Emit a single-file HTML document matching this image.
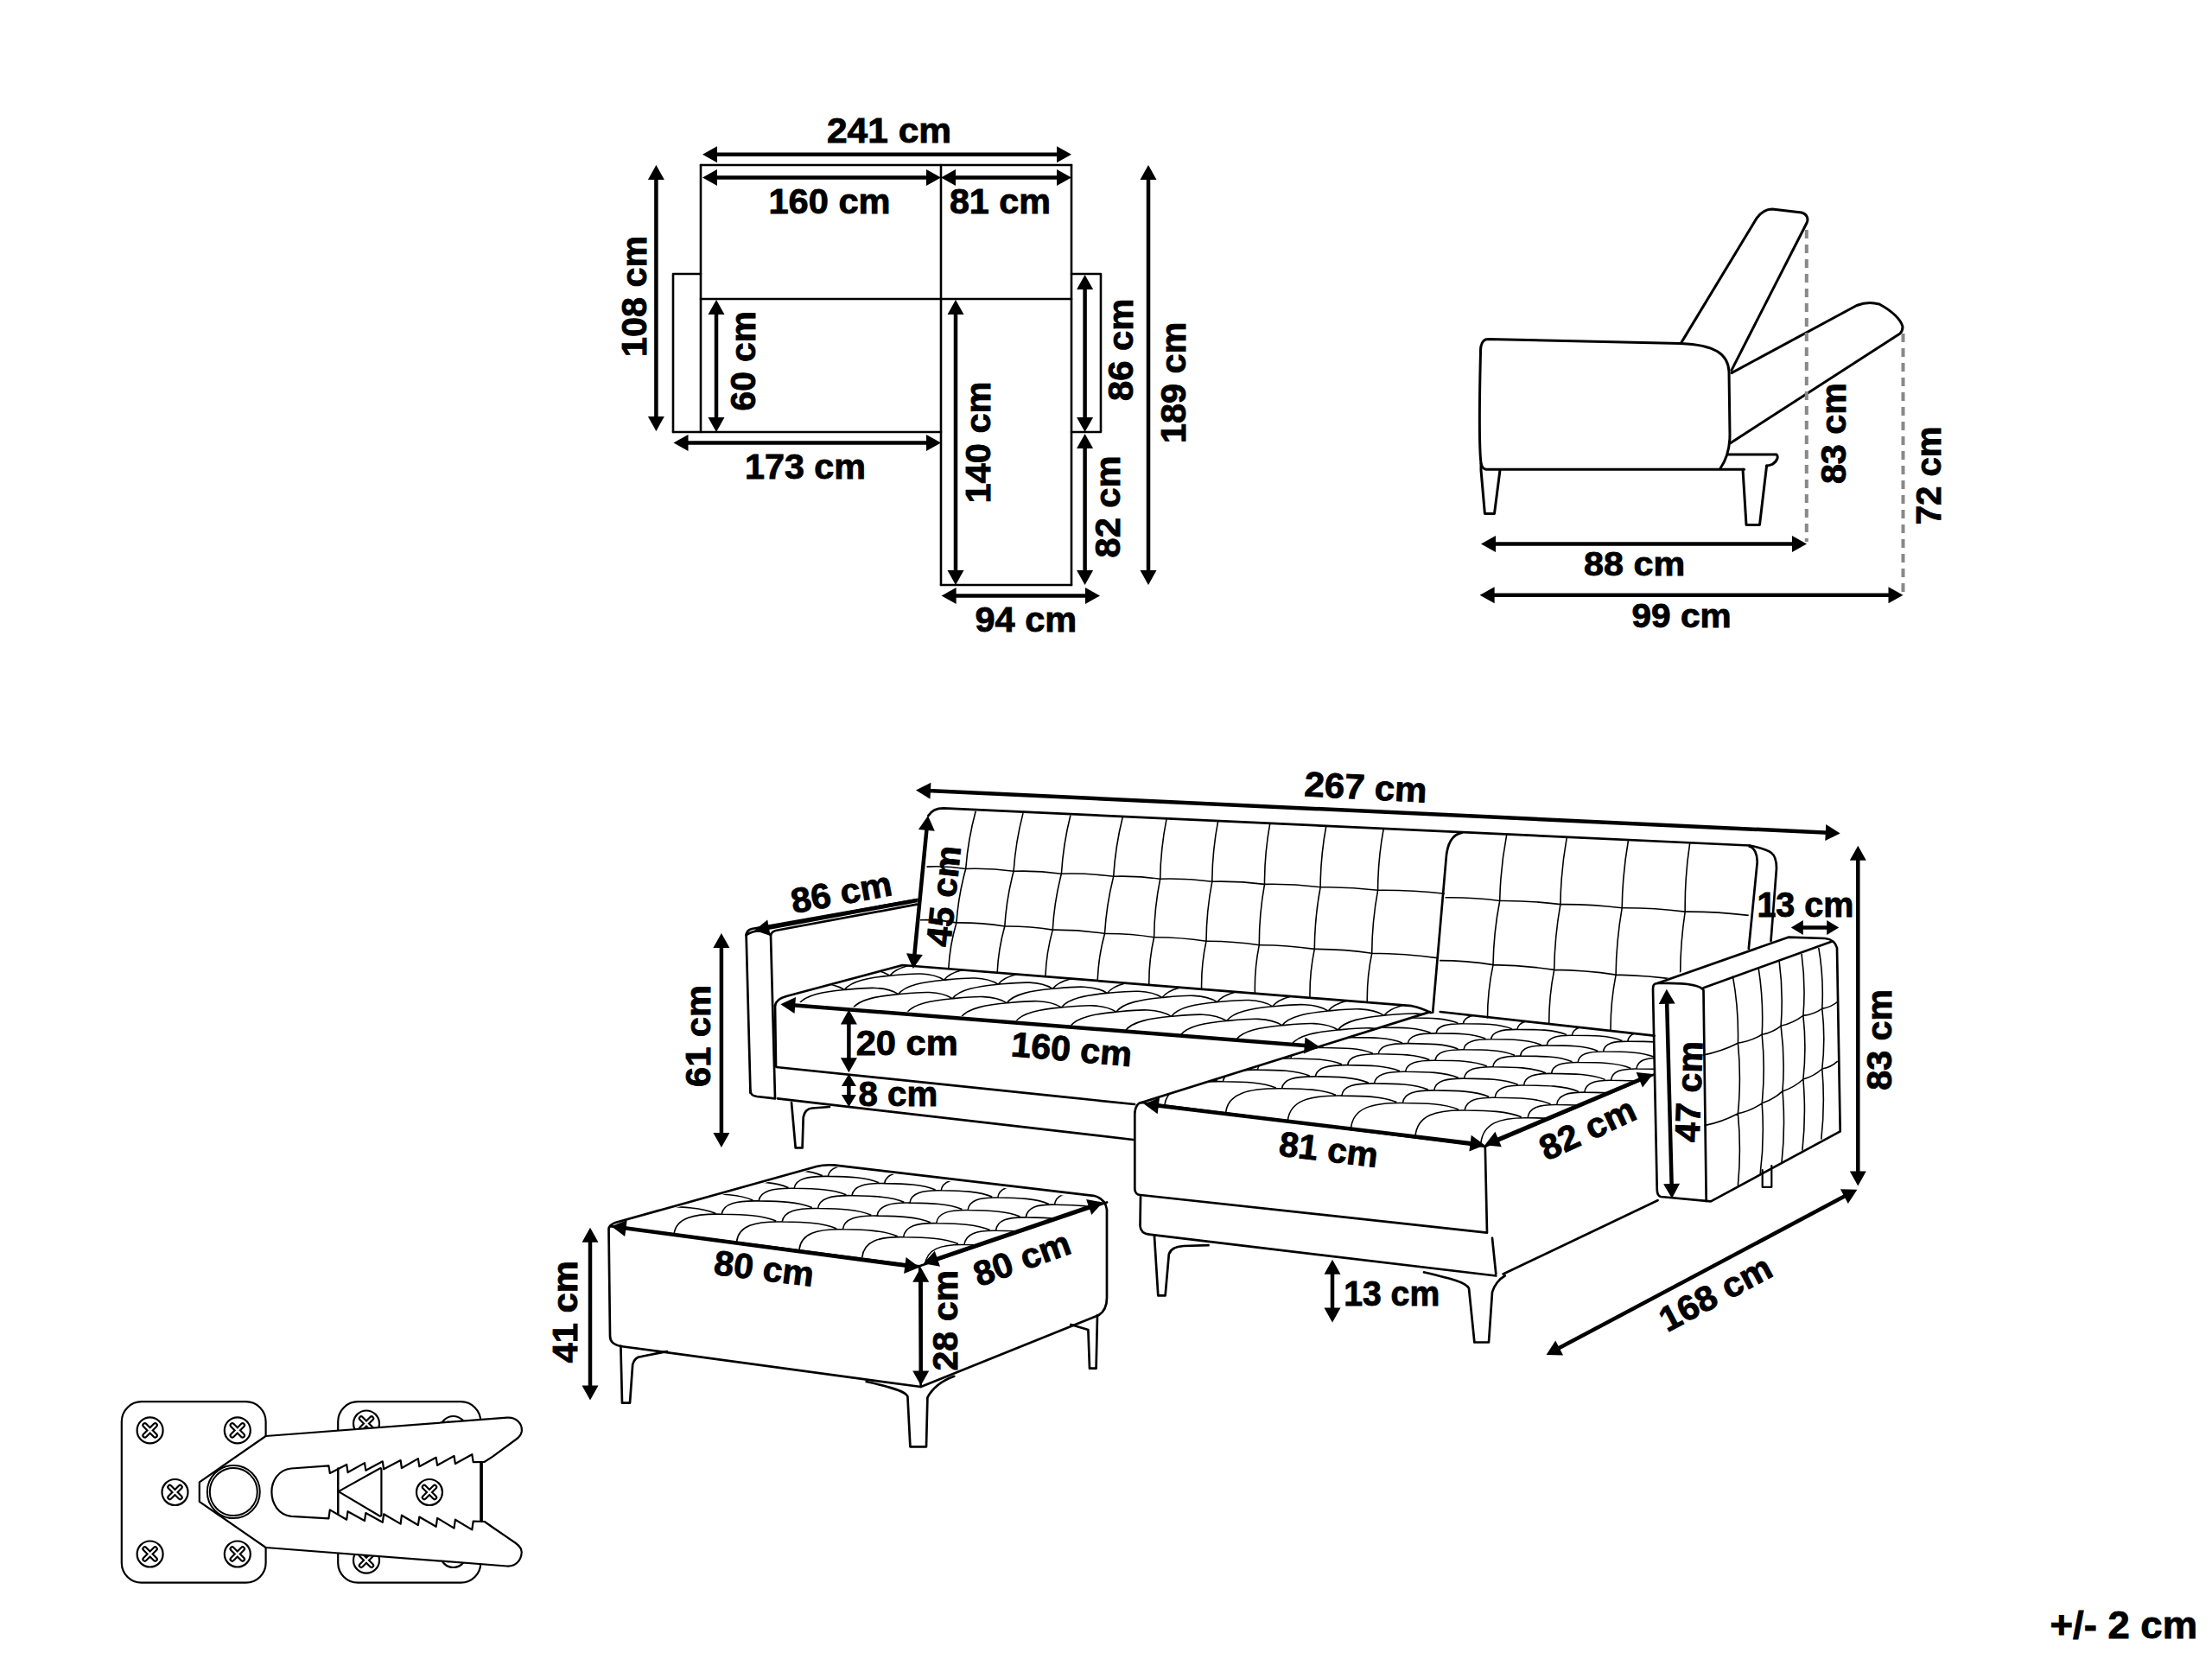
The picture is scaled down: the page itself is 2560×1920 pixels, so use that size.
<!DOCTYPE html>
<html><head><meta charset="utf-8"><style>
html,body{margin:0;padding:0;background:#fff;width:2560px;height:1920px;overflow:hidden}
svg{display:block}
text{font-family:"Liberation Sans",sans-serif;font-weight:bold;fill:#000;stroke:#000;stroke-width:0.9px}
</style></head><body>
<svg width="2560" height="1920" viewBox="0 0 2560 1920">
<path d="M811.0,191.0 L1240.0,191.0" fill="none" stroke="#000" stroke-width="2.6" stroke-linejoin="round" stroke-linecap="round"/>
<path d="M811.0,191.0 L811.0,500.0" fill="none" stroke="#000" stroke-width="2.6" stroke-linejoin="round" stroke-linecap="round"/>
<path d="M1240.0,191.0 L1240.0,677.0" fill="none" stroke="#000" stroke-width="2.6" stroke-linejoin="round" stroke-linecap="round"/>
<path d="M1089.0,191.0 L1089.0,677.0" fill="none" stroke="#000" stroke-width="2.6" stroke-linejoin="round" stroke-linecap="round"/>
<path d="M811.0,346.0 L1240.0,346.0" fill="none" stroke="#000" stroke-width="2.6" stroke-linejoin="round" stroke-linecap="round"/>
<path d="M779.0,500.0 L1089.0,500.0" fill="none" stroke="#000" stroke-width="2.6" stroke-linejoin="round" stroke-linecap="round"/>
<path d="M811.0,317.0 L779.0,317.0 L779.0,500.0" fill="none" stroke="#000" stroke-width="2.6" stroke-linejoin="round" stroke-linecap="round"/>
<path d="M1240.0,317.0 L1274.0,317.0 L1274.0,500.0 L1240.0,500.0" fill="none" stroke="#000" stroke-width="2.6" stroke-linejoin="round" stroke-linecap="round"/>
<path d="M1089.0,677.0 L1240.0,677.0" fill="none" stroke="#000" stroke-width="2.6" stroke-linejoin="round" stroke-linecap="round"/>
<line x1="826.6" y1="178.7" x2="1226.4" y2="178.7" stroke="#000" stroke-width="4.5"/>
<polygon points="813.0,178.7 830.0,188.2 830.0,169.2"/>
<polygon points="1240.0,178.7 1223.0,188.2 1223.0,169.2"/>
<line x1="826.6" y1="205.4" x2="1075.4" y2="205.4" stroke="#000" stroke-width="4.5"/>
<polygon points="813.0,205.4 830.0,214.9 830.0,195.9"/>
<polygon points="1089.0,205.4 1072.0,214.9 1072.0,195.9"/>
<line x1="1102.6" y1="205.4" x2="1226.4" y2="205.4" stroke="#000" stroke-width="4.5"/>
<polygon points="1089.0,205.4 1106.0,214.9 1106.0,195.9"/>
<polygon points="1240.0,205.4 1223.0,214.9 1223.0,195.9"/>
<line x1="759.4" y1="204.6" x2="759.4" y2="485.4" stroke="#000" stroke-width="4.5"/>
<polygon points="759.4,191.0 749.9,208.0 768.9,208.0"/>
<polygon points="759.4,499.0 749.9,482.0 768.9,482.0"/>
<line x1="829.0" y1="360.6" x2="829.0" y2="486.4" stroke="#000" stroke-width="4.5"/>
<polygon points="829.0,347.0 819.5,364.0 838.5,364.0"/>
<polygon points="829.0,500.0 819.5,483.0 838.5,483.0"/>
<line x1="793.1" y1="512.4" x2="1075.4" y2="512.4" stroke="#000" stroke-width="4.5"/>
<polygon points="779.5,512.4 796.5,521.9 796.5,502.9"/>
<polygon points="1089.0,512.4 1072.0,521.9 1072.0,502.9"/>
<line x1="1106.0" y1="360.6" x2="1106.0" y2="663.4" stroke="#000" stroke-width="4.5"/>
<polygon points="1106.0,347.0 1096.5,364.0 1115.5,364.0"/>
<polygon points="1106.0,677.0 1096.5,660.0 1115.5,660.0"/>
<line x1="1255.6" y1="331.6" x2="1255.6" y2="486.4" stroke="#000" stroke-width="4.5"/>
<polygon points="1255.6,318.0 1246.1,335.0 1265.1,335.0"/>
<polygon points="1255.6,500.0 1246.1,483.0 1265.1,483.0"/>
<line x1="1255.6" y1="515.6" x2="1255.6" y2="663.4" stroke="#000" stroke-width="4.5"/>
<polygon points="1255.6,502.0 1246.1,519.0 1265.1,519.0"/>
<polygon points="1255.6,677.0 1246.1,660.0 1265.1,660.0"/>
<line x1="1329.0" y1="204.6" x2="1329.0" y2="663.4" stroke="#000" stroke-width="4.5"/>
<polygon points="1329.0,191.0 1319.5,208.0 1338.5,208.0"/>
<polygon points="1329.0,677.0 1319.5,660.0 1338.5,660.0"/>
<line x1="1103.2" y1="689.5" x2="1259.4" y2="689.5" stroke="#000" stroke-width="4.5"/>
<polygon points="1089.6,689.5 1106.6,699.0 1106.6,680.0"/>
<polygon points="1273.0,689.5 1256.0,699.0 1256.0,680.0"/>
<text transform="translate(1029.0,150.5) rotate(0)" x="0" y="14.5" font-size="40.5" text-anchor="middle" textLength="144.0" lengthAdjust="spacingAndGlyphs">241 cm</text>
<text transform="translate(960.0,232.3) rotate(0)" x="0" y="14.5" font-size="40.5" text-anchor="middle" textLength="141.0" lengthAdjust="spacingAndGlyphs">160 cm</text>
<text transform="translate(1157.4,232.9) rotate(0)" x="0" y="14.5" font-size="40.5" text-anchor="middle" textLength="117.0" lengthAdjust="spacingAndGlyphs">81 cm</text>
<text transform="translate(932.0,539.0) rotate(0)" x="0" y="14.5" font-size="40.5" text-anchor="middle" textLength="140.0" lengthAdjust="spacingAndGlyphs">173 cm</text>
<text transform="translate(1187.3,716.0) rotate(0)" x="0" y="14.5" font-size="40.5" text-anchor="middle" textLength="117.6" lengthAdjust="spacingAndGlyphs">94 cm</text>
<text transform="translate(733.3,342.9) rotate(-90)" x="0" y="14.5" font-size="40.5" text-anchor="middle" textLength="140.0" lengthAdjust="spacingAndGlyphs">108 cm</text>
<text transform="translate(859.5,417.8) rotate(-90)" x="0" y="14.5" font-size="40.5" text-anchor="middle" textLength="115.4" lengthAdjust="spacingAndGlyphs">60 cm</text>
<text transform="translate(1131.6,512.0) rotate(-90)" x="0" y="14.5" font-size="40.5" text-anchor="middle" textLength="141.0" lengthAdjust="spacingAndGlyphs">140 cm</text>
<text transform="translate(1296.0,404.8) rotate(-90)" x="0" y="14.5" font-size="40.5" text-anchor="middle" textLength="118.5" lengthAdjust="spacingAndGlyphs">86 cm</text>
<text transform="translate(1281.5,586.5) rotate(-90)" x="0" y="14.5" font-size="40.5" text-anchor="middle" textLength="118.0" lengthAdjust="spacingAndGlyphs">82 cm</text>
<text transform="translate(1357.5,442.8) rotate(-90)" x="0" y="14.5" font-size="40.5" text-anchor="middle" textLength="140.5" lengthAdjust="spacingAndGlyphs">189 cm</text>
<path d="M1722,392.5 L1945,397.4 C1985,399 2000,410 2001,430 L2002,503 C2002,520 1998,532 1991,542 M1713.5,408 C1713,399 1716,392.5 1722,392.5 M1713.5,408 C1712,470 1712,520 1714,536 C1715,541 1717,543 1720,543.3 L2018.6,543.3" fill="none" stroke="#000" stroke-width="3" stroke-linejoin="round" stroke-linecap="round" />
<path d="M2000.7,526 L2056,526 C2058,528 2058,533 2051,537.4 C2048,538.5 2046,539 2044.6,539" fill="none" stroke="#000" stroke-width="3" stroke-linejoin="round" stroke-linecap="round" />
<path d="M1714.0,536.0 L1714.0,544.0 L1718.4,594.4 L1729.5,594.4 L1736.0,544.0" fill="none" stroke="#000" stroke-width="3" stroke-linejoin="round" stroke-linecap="round"/>
<path d="M2017.0,543.3 L2021.0,607.4 L2036.5,607.4 L2044.6,539.0" fill="none" stroke="#000" stroke-width="3" stroke-linejoin="round" stroke-linecap="round"/>
<path d="M1945.3,397.4 L2033,252.6 C2040,243 2046,242 2051,242 L2085,246 C2092,248 2093,254 2091,258 L2004,428.4" fill="none" stroke="#000" stroke-width="3" stroke-linejoin="round" stroke-linecap="round" />
<path d="M2004,431.6 L2148.8,353.5 C2160,349 2168,350 2175,352 C2190,360 2200,370 2202,378 C2202,383 2200,385 2199,386 L2002.3,513" fill="none" stroke="#000" stroke-width="3" stroke-linejoin="round" stroke-linecap="round" />
<line x1="2090.8" y1="266" x2="2090.8" y2="627" stroke="#888" stroke-width="4" stroke-dasharray="10,7"/>
<line x1="2202.5" y1="386" x2="2202.5" y2="689" stroke="#888" stroke-width="4" stroke-dasharray="10,7"/>
<line x1="1727.6" y1="629.5" x2="2077.4" y2="629.5" stroke="#000" stroke-width="4.5"/>
<polygon points="1714.0,629.5 1731.0,639.0 1731.0,620.0"/>
<polygon points="2091.0,629.5 2074.0,639.0 2074.0,620.0"/>
<line x1="1726.2" y1="688.8" x2="2188.9" y2="688.8" stroke="#000" stroke-width="4.5"/>
<polygon points="1712.6,688.8 1729.6,698.3 1729.6,679.3"/>
<polygon points="2202.5,688.8 2185.5,698.3 2185.5,679.3"/>
<text transform="translate(1891.6,652.2) rotate(0)" x="0" y="13.8" font-size="38.7" text-anchor="middle" textLength="117.0" lengthAdjust="spacingAndGlyphs">88 cm</text>
<text transform="translate(1946.0,712.4) rotate(0)" x="0" y="13.8" font-size="38.5" text-anchor="middle" textLength="115.0" lengthAdjust="spacingAndGlyphs">99 cm</text>
<text transform="translate(2121.0,501.6) rotate(-90)" x="0" y="14.5" font-size="40.5" text-anchor="middle" textLength="117.0" lengthAdjust="spacingAndGlyphs">83 cm</text>
<text transform="translate(2231.8,550.4) rotate(-90)" x="0" y="14.5" font-size="40.5" text-anchor="middle" textLength="113.8" lengthAdjust="spacingAndGlyphs">72 cm</text>
<clipPath id="cbL"><path d="M1080,930 L1680,962 L1660,1175 L1050,1125 Z"/></clipPath>
<g clip-path="url(#cbL)"><path d="M1129.2,938.8 Q1120.3,971.6 1117.7,1005.5 Q1109.2,1036.1 1106.9,1067.9 Q1099.2,1093.8 1097.8,1120.8 M1184.0,941.1 Q1175.4,974.2 1173.1,1008.3 Q1164.8,1039.7 1162.8,1072.0 Q1155.4,1098.2 1154.2,1125.3 M1238.9,943.5 Q1230.5,976.8 1228.4,1011.2 Q1220.1,1043.2 1218.3,1076.1 Q1210.9,1102.5 1209.9,1129.9 M1299.2,946.0 Q1290.8,979.7 1288.7,1014.4 Q1280.5,1047.0 1278.5,1080.5 Q1271.2,1107.1 1270.2,1134.7 M1350.0,948.2 Q1343.2,982.3 1342.7,1017.2 Q1336.0,1050.6 1335.6,1084.7 Q1329.5,1111.8 1329.8,1139.6 M1409.6,950.7 Q1403.0,985.2 1402.8,1020.3 Q1396.2,1054.4 1396.0,1089.2 Q1390.1,1116.5 1390.6,1144.5 M1469.7,953.3 Q1463.4,988.1 1463.5,1023.4 Q1457.2,1058.3 1457.3,1093.7 Q1451.7,1121.3 1452.4,1149.5 M1534.8,956.0 Q1528.3,991.1 1528.1,1026.8 Q1521.5,1062.3 1521.3,1098.4 Q1515.5,1126.2 1516.0,1154.6 M1601.3,958.9 Q1594.7,994.3 1594.6,1030.3 Q1587.9,1066.5 1587.7,1103.3 Q1581.8,1131.3 1582.3,1160.0 M1072.5,1003.1 Q1095.2,1001.9 1117.7,1005.5 Q1145.5,1004.5 1173.1,1008.3 Q1200.9,1007.4 1228.4,1011.2 Q1258.7,1010.4 1288.7,1014.3 Q1315.8,1013.4 1342.7,1017.2 Q1372.9,1016.3 1402.8,1020.3 Q1433.3,1019.5 1463.5,1023.4 Q1495.9,1022.7 1528.1,1026.8 Q1561.5,1026.1 1594.6,1030.3 Q1633.4,1029.9 1672.0,1034.3 M1064.8,1064.8 Q1086.0,1064.0 1106.9,1067.9 Q1135.0,1067.6 1162.8,1072.0 Q1190.7,1071.7 1218.3,1076.1 Q1248.6,1075.9 1278.5,1080.5 Q1307.2,1080.2 1335.6,1084.7 Q1366.0,1084.6 1396.0,1089.2 Q1426.8,1089.0 1457.3,1093.7 Q1489.5,1093.6 1521.3,1098.4 Q1554.7,1098.4 1587.7,1103.3 Q1626.5,1103.7 1665.0,1108.9 " fill="none" stroke="#000" stroke-width="1.6"/></g>
<clipPath id="cbR"><path d="M1677,960 L2040,975 L2040,1080 L1918,1138 L1913,1200 L1655,1175 Z"/></clipPath>
<g clip-path="url(#cbR)"><path d="M1743.7,966.1 Q1736.5,1003.9 1735.7,1042.5 Q1728.6,1079.2 1728.0,1116.6 Q1721.5,1147.2 1721.5,1178.4 M1813.3,969.2 Q1806.4,1007.6 1805.9,1046.6 Q1799.2,1084.2 1798.7,1122.3 Q1792.5,1153.8 1792.7,1185.8 M1884.5,972.5 Q1877.7,1011.3 1877.2,1050.8 Q1870.5,1089.2 1870.1,1128.1 Q1863.8,1160.4 1864.0,1193.3 M1955.7,975.7 Q1949.7,1015.2 1950.2,1055.1 Q1944.2,1094.4 1944.7,1134.2 Q1939.1,1167.5 1940.0,1201.3 M1672.5,1038.8 Q1704.2,1038.3 1735.7,1042.5 Q1771.0,1042.2 1805.9,1046.6 Q1841.7,1046.3 1877.2,1050.8 Q1913.8,1050.6 1950.2,1055.1 Q1987.1,1054.9 2023.7,1059.4 M1666.0,1111.6 Q1697.2,1111.7 1728.0,1116.6 Q1763.5,1117.1 1798.7,1122.4 Q1834.6,1122.8 1870.1,1128.1 Q1907.6,1128.8 1944.7,1134.2 Q1977.5,1134.4 2010.0,1139.5 " fill="none" stroke="#000" stroke-width="1.6"/></g>
<path d="M2005.4,1129.7 Q2012.4,1168.1 2011.4,1207.2 Q2015.4,1248.0 2011.4,1288.7 Q2015.4,1330.5 2011.4,1372.2 M2035.2,1120.7 Q2041.2,1158.8 2039.2,1197.3 Q2043.2,1237.0 2039.2,1276.8 Q2042.2,1317.6 2037.2,1358.3 M2059.1,1111.8 Q2064.1,1149.4 2061.1,1187.3 Q2066.0,1225.0 2063.0,1262.9 Q2066.5,1304.2 2062.0,1345.4 M2085.0,1103.8 Q2089.9,1139.5 2086.9,1175.4 Q2090.9,1212.2 2086.9,1249.0 Q2090.4,1290.3 2085.9,1331.5 M2104.8,1096.8 Q2110.8,1131.9 2108.8,1167.4 Q2112.8,1202.2 2108.8,1237.0 Q2112.3,1277.8 2107.8,1318.6 M1970.6,1221.1 Q1992.0,1217.0 2011.4,1207.2 Q2026.3,1205.1 2039.2,1197.3 Q2051.4,1195.0 2061.1,1187.3 Q2075.3,1184.1 2086.9,1175.4 Q2098.9,1174.2 2108.8,1167.4 Q2119.5,1165.7 2127.7,1158.5 M1972.6,1302.6 Q1993.0,1298.5 2011.4,1288.7 Q2026.5,1285.5 2039.2,1276.8 Q2052.6,1272.4 2063.0,1262.9 Q2076.5,1258.5 2086.9,1249.0 Q2099.3,1245.6 2108.8,1237.0 Q2119.1,1235.2 2126.7,1228.1 " fill="none" stroke="#000" stroke-width="1.6"/>
<clipPath id="cseatL"><path d="M902,1158 L1044.5,1117 L1634,1164.2 L1656,1172 L1526.6,1211.3 Z"/></clipPath>
<g clip-path="url(#cseatL)"><path d="M677.9,1141.7 C685.8,1131.1 706.9,1127.6 730.4,1125.4 C753.7,1123.2 776.2,1120.4 791.7,1130.4 M739.2,1146.7 C747.0,1136.1 768.2,1132.6 791.7,1130.4 C815.1,1128.2 837.7,1125.4 853.3,1135.4 M800.7,1151.7 C808.6,1141.1 829.7,1137.6 853.3,1135.4 C876.8,1133.2 899.5,1130.4 915.2,1140.5 M862.5,1156.8 C870.4,1146.2 891.6,1142.7 915.2,1140.5 C938.8,1138.2 961.6,1135.4 977.3,1145.5 M924.5,1161.9 C932.4,1151.2 953.6,1147.7 977.3,1145.5 C1001.0,1143.3 1023.9,1140.4 1039.7,1150.6 M986.8,1167.0 C994.7,1156.3 1016.0,1152.8 1039.7,1150.6 C1063.5,1148.4 1086.4,1145.5 1102.3,1155.7 M1049.4,1172.1 C1057.3,1161.4 1078.6,1157.9 1102.3,1155.7 C1126.2,1153.4 1149.3,1150.6 1165.2,1160.8 M1112.2,1177.3 C1120.2,1166.6 1141.5,1163.0 1165.2,1160.8 C1189.2,1158.5 1212.4,1155.7 1228.4,1165.9 M1175.3,1182.5 C1183.3,1171.7 1204.6,1168.2 1228.4,1165.9 C1252.5,1163.7 1275.8,1160.8 1291.8,1171.1 M1238.7,1187.7 C1246.7,1176.9 1268.0,1173.3 1291.8,1171.1 C1316.0,1168.8 1339.4,1165.9 1355.6,1176.3 M1302.3,1192.9 C1310.3,1182.1 1331.7,1178.5 1355.6,1176.3 C1379.9,1174.0 1403.3,1171.1 1419.6,1181.5 M1366.2,1198.1 C1374.2,1187.3 1395.7,1183.7 1419.6,1181.5 C1444.0,1179.2 1467.5,1176.3 1483.8,1186.7 M1430.4,1203.4 C1438.4,1192.6 1459.9,1188.9 1483.8,1186.7 C1508.3,1184.4 1532.0,1181.5 1548.4,1192.0 M1494.9,1208.7 C1502.9,1197.8 1524.4,1194.2 1548.4,1192.0 C1573.0,1189.7 1596.8,1186.7 1613.2,1197.2 M1559.6,1214.0 C1567.7,1203.1 1589.2,1199.5 1613.2,1197.2 C1637.9,1194.9 1661.8,1192.0 1678.3,1202.5 M1624.7,1219.3 C1632.7,1208.4 1654.3,1204.8 1678.3,1202.5 C1703.1,1200.2 1727.1,1197.2 1743.7,1207.8 M730.4,1125.4 C738.3,1114.9 759.4,1111.4 782.9,1109.2 C806.2,1107.0 828.7,1104.2 844.3,1114.1 M791.7,1130.4 C799.6,1119.8 820.7,1116.4 844.3,1114.1 C867.7,1111.9 890.3,1109.1 905.9,1119.1 M853.3,1135.4 C861.2,1124.8 882.4,1121.3 905.9,1119.1 C929.4,1116.9 952.2,1114.1 967.9,1124.1 M915.2,1140.5 C923.1,1129.8 944.3,1126.3 967.9,1124.1 C991.5,1121.9 1014.3,1119.0 1030.0,1129.1 M977.3,1145.5 C985.2,1134.9 1006.4,1131.4 1030.0,1129.1 C1053.7,1126.9 1076.7,1124.0 1092.5,1134.2 M1039.7,1150.6 C1047.6,1139.9 1068.8,1136.4 1092.5,1134.2 C1116.3,1131.9 1139.3,1129.0 1155.2,1139.2 M1102.3,1155.7 C1110.3,1145.0 1131.5,1141.5 1155.2,1139.2 C1179.1,1137.0 1202.2,1134.1 1218.2,1144.3 M1165.2,1160.8 C1173.2,1150.1 1194.5,1146.5 1218.2,1144.3 C1242.2,1142.0 1265.4,1139.1 1281.4,1149.4 M1228.4,1165.9 C1236.4,1155.2 1257.7,1151.6 1281.4,1149.4 C1305.5,1147.1 1328.9,1144.2 1345.0,1154.5 M1291.8,1171.1 C1299.8,1160.3 1321.2,1156.8 1345.0,1154.5 C1369.2,1152.2 1392.6,1149.3 1408.7,1159.7 M1355.6,1176.3 C1363.5,1165.5 1384.9,1161.9 1408.7,1159.7 C1433.1,1157.4 1456.6,1154.4 1472.8,1164.8 M1419.6,1181.5 C1427.5,1170.7 1449.0,1167.1 1472.8,1164.8 C1497.2,1162.5 1520.8,1159.6 1537.1,1170.0 M1483.8,1186.7 C1491.8,1175.9 1513.3,1172.3 1537.1,1170.0 C1561.7,1167.7 1585.4,1164.8 1601.8,1175.2 M1548.4,1192.0 C1556.4,1181.1 1577.8,1177.5 1601.8,1175.2 C1626.4,1172.9 1650.2,1169.9 1666.7,1180.5 M1613.2,1197.2 C1621.2,1186.3 1642.7,1182.7 1666.7,1180.5 C1691.4,1178.1 1715.3,1175.2 1731.8,1185.7 M1678.3,1202.5 C1686.3,1191.6 1707.8,1188.0 1731.8,1185.7 C1756.7,1183.4 1780.7,1180.4 1797.3,1191.0 M782.9,1109.2 C790.7,1098.7 811.8,1095.2 835.2,1093.0 C858.6,1090.8 881.1,1087.9 896.7,1097.9 M844.3,1114.1 C852.1,1103.6 873.2,1100.1 896.7,1097.9 C920.2,1095.7 942.8,1092.8 958.5,1102.8 M905.9,1119.1 C913.8,1108.5 934.9,1105.1 958.5,1102.8 C982.0,1100.6 1004.7,1097.8 1020.5,1107.8 M967.9,1124.1 C975.7,1113.5 996.9,1110.0 1020.5,1107.8 C1044.1,1105.5 1066.9,1102.7 1082.7,1112.8 M1030.0,1129.1 C1037.9,1118.5 1059.1,1115.0 1082.7,1112.8 C1106.4,1110.5 1129.4,1107.6 1145.2,1117.8 M1092.5,1134.2 C1100.4,1123.5 1121.6,1120.0 1145.2,1117.8 C1169.1,1115.5 1192.1,1112.6 1208.0,1122.8 M1155.2,1139.2 C1163.1,1128.5 1184.4,1125.0 1208.0,1122.8 C1232.0,1120.5 1255.1,1117.6 1271.1,1127.8 M1218.2,1144.3 C1226.1,1133.6 1247.4,1130.1 1271.1,1127.8 C1295.1,1125.5 1318.3,1122.6 1334.4,1132.9 M1281.4,1149.4 C1289.4,1138.7 1310.7,1135.1 1334.4,1132.9 C1358.5,1130.6 1381.9,1127.7 1398.0,1138.0 M1345.0,1154.5 C1352.9,1143.8 1374.2,1140.2 1398.0,1138.0 C1422.2,1135.7 1445.7,1132.7 1461.9,1143.1 M1408.7,1159.7 C1416.7,1148.9 1438.1,1145.3 1461.9,1143.1 C1486.2,1140.8 1509.7,1137.8 1526.0,1148.2 M1472.8,1164.8 C1480.8,1154.0 1502.2,1150.5 1526.0,1148.2 C1550.4,1145.9 1574.1,1142.9 1590.4,1153.4 M1537.1,1170.0 C1545.1,1159.2 1566.5,1155.6 1590.4,1153.4 C1615.0,1151.0 1638.7,1148.1 1655.1,1158.5 M1601.8,1175.2 C1609.8,1164.4 1631.2,1160.8 1655.1,1158.5 C1679.8,1156.2 1703.6,1153.2 1720.1,1163.7 M1666.7,1180.5 C1674.7,1169.6 1696.1,1166.0 1720.1,1163.7 C1744.8,1161.4 1768.8,1158.4 1785.3,1168.9 M1731.8,1185.7 C1739.9,1174.8 1761.4,1171.2 1785.3,1168.9 C1810.2,1166.6 1834.2,1163.6 1850.8,1174.2 M835.2,1093.0 C843.1,1082.5 864.1,1079.0 887.6,1076.8 C910.9,1074.6 933.5,1071.7 949.1,1081.7 M896.7,1097.9 C904.6,1087.4 925.7,1083.9 949.1,1081.7 C972.6,1079.4 995.2,1076.6 1010.9,1086.6 M958.5,1102.8 C966.3,1092.3 987.4,1088.8 1010.9,1086.6 C1034.5,1084.3 1057.3,1081.5 1073.0,1091.5 M1020.5,1107.8 C1028.3,1097.2 1049.5,1093.8 1073.0,1091.5 C1096.7,1089.2 1119.5,1086.4 1135.3,1096.4 M1082.7,1112.8 C1090.6,1102.2 1111.8,1098.7 1135.3,1096.4 C1159.1,1094.2 1182.0,1091.3 1197.9,1101.4 M1145.2,1117.8 C1153.1,1107.1 1174.3,1103.7 1197.9,1101.4 C1221.8,1099.1 1244.8,1096.2 1260.8,1106.4 M1208.0,1122.8 C1215.9,1112.1 1237.2,1108.6 1260.8,1106.4 C1284.7,1104.1 1307.9,1101.2 1323.9,1111.4 M1271.1,1127.8 C1279.0,1117.1 1300.2,1113.6 1323.9,1111.4 C1348.0,1109.1 1371.2,1106.1 1387.3,1116.4 M1334.4,1132.9 C1342.3,1122.2 1363.6,1118.7 1387.3,1116.4 C1411.5,1114.1 1434.8,1111.1 1451.0,1121.5 M1398.0,1138.0 C1405.9,1127.2 1427.2,1123.7 1451.0,1121.5 C1475.2,1119.1 1498.7,1116.2 1514.9,1126.5 M1461.9,1143.1 C1469.8,1132.3 1491.1,1128.8 1514.9,1126.5 C1539.3,1124.2 1562.8,1121.2 1579.1,1131.6 M1526.0,1148.2 C1534.0,1137.4 1555.3,1133.9 1579.1,1131.6 C1603.6,1129.3 1627.2,1126.3 1643.6,1136.7 M1590.4,1153.4 C1598.4,1142.5 1619.8,1139.0 1643.6,1136.7 C1668.2,1134.4 1691.9,1131.4 1708.4,1141.9 M1655.1,1158.5 C1663.1,1147.7 1684.5,1144.1 1708.4,1141.9 C1733.0,1139.5 1756.9,1136.5 1773.4,1147.0 M1720.1,1163.7 C1728.1,1152.9 1749.5,1149.3 1773.4,1147.0 C1798.2,1144.6 1822.2,1141.6 1838.7,1152.2 M1785.3,1168.9 C1793.3,1158.0 1814.8,1154.5 1838.7,1152.2 C1863.6,1149.8 1887.7,1146.8 1904.3,1157.4" fill="none" stroke="#000" stroke-width="1.6"/></g>
<clipPath id="cchaise"><path d="M1321,1276 L1720,1325 L1914.4,1243.6 L1914.6,1198.6 L1666.7,1171 L1654.8,1171.1 Z"/></clipPath>
<g clip-path="url(#cchaise)"><path d="M947.7,1229.7 C950.9,1210.4 979.8,1204.9 1027.9,1205.6 C1050.4,1205.9 1069.2,1206.1 1083.7,1212.2 M1011.7,1237.6 C1014.8,1217.9 1043.0,1212.3 1090.0,1213.0 C1112.8,1213.3 1131.9,1213.5 1146.7,1219.7 M1076.7,1245.7 C1079.7,1225.5 1107.2,1219.8 1153.0,1220.5 C1176.2,1220.8 1195.6,1221.0 1210.6,1227.3 M1142.8,1253.8 C1145.8,1233.2 1172.5,1227.5 1217.0,1228.1 C1240.6,1228.4 1260.3,1228.7 1275.5,1235.0 M1210.0,1262.1 C1212.9,1241.1 1238.8,1235.2 1282.0,1235.8 C1306.0,1236.2 1326.0,1236.4 1341.5,1242.9 M1278.3,1270.5 C1281.1,1249.1 1306.3,1243.1 1348.1,1243.7 C1372.4,1244.0 1392.8,1244.3 1408.5,1250.9 M1347.8,1279.1 C1350.5,1257.2 1374.8,1251.1 1415.3,1251.7 C1440.0,1252.0 1460.7,1252.3 1476.7,1259.0 M1418.5,1287.8 C1421.1,1265.4 1444.5,1259.3 1483.5,1259.8 C1508.7,1260.2 1529.7,1260.4 1545.9,1267.2 M1490.4,1296.7 C1492.9,1273.8 1515.4,1267.6 1552.9,1268.1 C1578.5,1268.4 1599.9,1268.7 1616.3,1275.6 M1563.5,1305.7 C1565.9,1282.3 1587.5,1276.0 1623.4,1276.5 C1649.4,1276.8 1671.2,1277.1 1687.9,1284.1 M1638.0,1314.9 C1640.3,1291.0 1660.9,1284.5 1695.2,1285.0 C1721.6,1285.4 1743.7,1285.7 1760.8,1292.8 M1713.7,1324.2 C1715.9,1299.8 1735.5,1293.2 1768.1,1293.7 C1795.0,1294.1 1817.5,1294.3 1834.8,1301.6 M1790.8,1333.7 C1792.9,1308.8 1811.4,1302.1 1842.3,1302.5 C1869.6,1302.9 1892.5,1303.2 1910.1,1310.6 M1869.3,1343.4 C1871.3,1317.9 1888.7,1311.1 1917.7,1311.5 C1945.5,1311.9 1968.8,1312.2 1986.8,1319.7 M1027.9,1205.6 C1029.8,1195.9 1046.5,1193.2 1074.3,1193.5 C1096.5,1193.8 1115.0,1194.0 1129.3,1200.0 M1090.0,1213.0 C1091.8,1203.1 1108.2,1200.4 1135.4,1200.7 C1157.9,1200.9 1176.7,1201.1 1191.2,1207.2 M1153.0,1220.5 C1154.8,1210.4 1170.8,1207.6 1197.4,1207.9 C1220.2,1208.2 1239.3,1208.4 1254.1,1214.5 M1217.0,1228.1 C1218.7,1217.8 1234.4,1215.0 1260.4,1215.3 C1283.6,1215.5 1303.0,1215.8 1317.9,1222.0 M1282.0,1235.8 C1283.7,1225.4 1299.0,1222.5 1324.4,1222.8 C1347.9,1223.0 1367.6,1223.2 1382.8,1229.6 M1348.1,1243.7 C1349.8,1233.0 1364.6,1230.1 1389.3,1230.3 C1413.2,1230.6 1433.3,1230.8 1448.7,1237.3 M1415.3,1251.7 C1416.9,1240.8 1431.3,1237.8 1455.3,1238.1 C1479.6,1238.3 1500.0,1238.6 1515.6,1245.1 M1483.5,1259.8 C1485.1,1248.7 1499.1,1245.6 1522.4,1245.9 C1547.1,1246.2 1567.7,1246.4 1583.7,1253.1 M1552.9,1268.1 C1554.4,1256.7 1568.0,1253.6 1590.5,1253.9 C1615.6,1254.1 1636.6,1254.4 1652.8,1261.1 M1623.4,1276.5 C1624.9,1264.9 1638.0,1261.7 1659.8,1261.9 C1685.3,1262.2 1706.6,1262.5 1723.1,1269.3 M1695.2,1285.0 C1696.6,1273.1 1709.2,1269.9 1730.2,1270.2 C1756.1,1270.5 1777.8,1270.7 1794.5,1277.7 M1768.1,1293.7 C1769.4,1281.6 1781.6,1278.3 1801.7,1278.5 C1828.1,1278.8 1850.1,1279.1 1867.1,1286.2 M1842.3,1302.5 C1843.6,1290.1 1855.2,1286.8 1874.5,1287.0 C1901.3,1287.3 1923.7,1287.6 1941.0,1294.8 M1917.7,1311.5 C1919.0,1298.8 1930.0,1295.5 1948.4,1295.7 C1975.7,1296.0 1998.5,1296.2 2016.1,1303.6 M1074.3,1193.5 C1076.1,1184.3 1092.1,1181.7 1118.8,1182.0 C1140.6,1182.2 1158.8,1182.4 1172.9,1188.2 M1135.4,1200.7 C1137.2,1191.3 1152.8,1188.6 1179.0,1188.9 C1201.1,1189.1 1219.6,1189.3 1233.9,1195.2 M1197.4,1207.9 C1199.1,1198.3 1214.5,1195.7 1240.0,1195.9 C1262.4,1196.1 1281.2,1196.3 1295.7,1202.3 M1260.4,1215.3 C1262.1,1205.5 1277.0,1202.8 1302.0,1203.0 C1324.8,1203.2 1343.8,1203.4 1358.6,1209.5 M1324.4,1222.8 C1326.0,1212.7 1340.6,1210.0 1364.9,1210.2 C1388.0,1210.5 1407.4,1210.6 1422.4,1216.8 M1389.3,1230.3 C1390.9,1220.1 1405.1,1217.3 1428.8,1217.6 C1452.3,1217.8 1472.0,1218.0 1487.1,1224.3 M1455.3,1238.1 C1456.9,1227.6 1470.7,1224.8 1493.7,1225.0 C1517.5,1225.2 1537.5,1225.4 1552.9,1231.8 M1522.4,1245.9 C1523.9,1235.2 1537.3,1232.4 1559.6,1232.6 C1583.8,1232.8 1604.1,1233.0 1619.8,1239.5 M1590.5,1253.9 C1592.0,1243.0 1604.9,1240.1 1626.5,1240.3 C1651.1,1240.5 1671.8,1240.7 1687.7,1247.3 M1659.8,1261.9 C1661.2,1250.8 1673.7,1247.9 1694.5,1248.1 C1719.5,1248.3 1740.5,1248.5 1756.7,1255.2 M1730.2,1270.2 C1731.5,1258.8 1743.6,1255.8 1763.6,1256.0 C1789.0,1256.2 1810.3,1256.4 1826.8,1263.2 M1801.7,1278.5 C1803.0,1267.0 1814.6,1263.9 1833.8,1264.1 C1859.7,1264.3 1881.3,1264.5 1898.0,1271.4 M1874.5,1287.0 C1875.7,1275.2 1886.8,1272.1 1905.2,1272.3 C1931.5,1272.5 1953.4,1272.7 1970.4,1279.7 M1948.4,1295.7 C1949.6,1283.6 1960.2,1280.4 1977.7,1280.6 C2004.4,1280.8 2026.8,1281.0 2044.0,1288.2 M1118.8,1182.0 C1120.5,1173.1 1135.9,1170.7 1161.5,1170.9 C1182.9,1171.1 1200.9,1171.2 1214.8,1176.9 M1179.0,1188.9 C1180.6,1179.9 1195.7,1177.4 1220.7,1177.6 C1242.5,1177.8 1260.7,1177.9 1274.8,1183.7 M1240.0,1195.9 C1241.6,1186.7 1256.3,1184.2 1280.8,1184.4 C1302.9,1184.5 1321.4,1184.7 1335.7,1190.6 M1302.0,1203.0 C1303.6,1193.6 1317.9,1191.1 1341.8,1191.3 C1364.2,1191.4 1383.0,1191.6 1397.5,1197.5 M1364.9,1210.2 C1366.5,1200.6 1380.4,1198.1 1403.7,1198.2 C1426.5,1198.4 1445.5,1198.5 1460.3,1204.6 M1428.8,1217.6 C1430.3,1207.8 1443.9,1205.2 1466.6,1205.3 C1489.7,1205.5 1509.0,1205.6 1524.0,1211.8 M1493.7,1225.0 C1495.1,1215.0 1508.4,1212.4 1530.4,1212.5 C1553.8,1212.7 1573.5,1212.8 1588.7,1219.1 M1559.6,1232.6 C1561.0,1222.4 1573.8,1219.7 1595.2,1219.8 C1619.0,1220.0 1638.9,1220.1 1654.3,1226.5 M1626.5,1240.3 C1627.9,1229.9 1640.3,1227.1 1661.0,1227.3 C1685.1,1227.4 1705.4,1227.6 1721.0,1234.0 M1694.5,1248.1 C1695.9,1237.4 1707.8,1234.6 1727.8,1234.8 C1752.3,1235.0 1772.9,1235.1 1788.8,1241.7 M1763.6,1256.0 C1764.9,1245.2 1776.4,1242.3 1795.6,1242.4 C1820.6,1242.6 1841.5,1242.8 1857.6,1249.4 M1833.8,1264.1 C1835.1,1253.0 1846.1,1250.1 1864.5,1250.2 C1889.9,1250.4 1911.1,1250.6 1927.5,1257.3 M1905.2,1272.3 C1906.4,1260.9 1916.9,1258.0 1934.6,1258.1 C1960.3,1258.3 1981.9,1258.5 1998.6,1265.3 M1977.7,1280.6 C1978.9,1269.0 1988.9,1266.0 2005.7,1266.1 C2031.9,1266.3 2053.8,1266.5 2070.7,1273.5 M1161.5,1170.9 C1163.1,1162.4 1177.9,1160.1 1202.5,1160.3 C1223.6,1160.4 1241.3,1160.5 1255.0,1166.1 M1220.7,1177.6 C1222.3,1168.9 1236.8,1166.6 1260.8,1166.7 C1282.3,1166.9 1300.2,1167.0 1314.1,1172.7 M1280.8,1184.4 C1282.4,1175.5 1296.5,1173.2 1320.0,1173.3 C1341.8,1173.4 1360.0,1173.5 1374.0,1179.3 M1341.8,1191.3 C1343.4,1182.2 1357.1,1179.8 1380.1,1180.0 C1402.1,1180.1 1420.6,1180.2 1434.9,1186.1 M1403.7,1198.2 C1405.2,1189.0 1418.7,1186.6 1441.0,1186.7 C1463.4,1186.9 1482.1,1187.0 1496.6,1192.9 M1466.6,1205.3 C1468.0,1195.9 1481.1,1193.5 1502.8,1193.6 C1525.6,1193.7 1544.6,1193.8 1559.3,1199.9 M1530.4,1212.5 C1531.8,1202.9 1544.5,1200.4 1565.6,1200.6 C1588.7,1200.7 1608.0,1200.8 1622.9,1206.9 M1595.2,1219.8 C1596.5,1210.1 1608.8,1207.5 1629.3,1207.6 C1652.7,1207.8 1672.3,1207.8 1687.4,1214.1 M1661.0,1227.3 C1662.3,1217.3 1674.2,1214.7 1694.0,1214.8 C1717.7,1214.9 1737.6,1215.0 1753.0,1221.3 M1727.8,1234.8 C1729.0,1224.6 1740.5,1222.0 1759.6,1222.1 C1783.7,1222.2 1803.9,1222.3 1819.5,1228.7 M1795.6,1242.4 C1796.8,1232.1 1807.9,1229.4 1826.2,1229.5 C1850.7,1229.6 1871.3,1229.7 1887.1,1236.2 M1864.5,1250.2 C1865.7,1239.6 1876.3,1236.9 1893.9,1237.0 C1918.8,1237.1 1939.6,1237.2 1955.7,1243.8 M1934.6,1258.1 C1935.7,1247.3 1945.8,1244.5 1962.7,1244.6 C1987.9,1244.7 2009.1,1244.8 2025.5,1251.6 M2005.7,1266.1 C2006.8,1255.1 2016.4,1252.2 2032.5,1252.3 C2058.2,1252.5 2079.7,1252.6 2096.3,1259.4 M1202.5,1160.3 C1204.1,1152.1 1218.3,1150.0 1241.9,1150.1 C1262.7,1150.1 1280.1,1150.2 1293.6,1155.7 M1260.8,1166.7 C1262.4,1158.4 1276.3,1156.2 1299.4,1156.3 C1320.5,1156.4 1338.1,1156.5 1351.8,1162.0 M1320.0,1173.3 C1321.5,1164.8 1335.1,1162.6 1357.7,1162.7 C1379.1,1162.8 1397.0,1162.8 1410.9,1168.5 M1380.1,1180.0 C1381.5,1171.3 1394.8,1169.1 1416.8,1169.1 C1438.5,1169.2 1456.7,1169.3 1470.8,1175.0 M1441.0,1186.7 C1442.4,1177.9 1455.3,1175.6 1476.8,1175.7 C1498.8,1175.8 1517.2,1175.8 1531.5,1181.7 M1502.8,1193.6 C1504.2,1184.6 1516.8,1182.2 1537.6,1182.3 C1560.0,1182.4 1578.7,1182.5 1593.2,1188.4 M1565.6,1200.6 C1566.9,1191.4 1579.1,1189.0 1599.4,1189.1 C1622.0,1189.2 1641.0,1189.2 1655.7,1195.2 M1629.3,1207.6 C1630.6,1198.2 1642.4,1195.8 1662.0,1195.9 C1685.0,1196.0 1704.3,1196.0 1719.2,1202.1 M1694.0,1214.8 C1695.2,1205.2 1706.6,1202.8 1725.6,1202.8 C1748.9,1202.9 1768.5,1203.0 1783.6,1209.2 M1759.6,1222.1 C1760.8,1212.3 1771.8,1209.8 1790.1,1209.9 C1813.8,1210.0 1833.7,1210.0 1849.0,1216.3 M1826.2,1229.5 C1827.4,1219.5 1838.0,1217.0 1855.6,1217.0 C1879.7,1217.1 1899.8,1217.2 1915.4,1223.6 M1893.9,1237.0 C1895.1,1226.8 1905.2,1224.2 1922.1,1224.3 C1946.5,1224.4 1967.0,1224.4 1982.8,1230.9 M1962.7,1244.6 C1963.7,1234.2 1973.4,1231.6 1989.6,1231.7 C2014.4,1231.7 2035.1,1231.8 2051.2,1238.4 M2032.5,1252.3 C2033.5,1241.8 2042.7,1239.1 2058.1,1239.1 C2083.3,1239.2 2104.4,1239.3 2120.7,1246.0 M1241.9,1150.1 C1243.4,1142.2 1257.1,1140.2 1279.8,1140.2 C1300.3,1140.3 1317.5,1140.3 1330.7,1145.7 M1299.4,1156.3 C1300.9,1148.3 1314.2,1146.3 1336.4,1146.3 C1357.2,1146.4 1374.6,1146.4 1388.1,1151.9 M1357.7,1162.7 C1359.1,1154.5 1372.2,1152.4 1393.9,1152.5 C1414.9,1152.5 1432.6,1152.5 1446.2,1158.1 M1416.8,1169.1 C1418.2,1160.8 1430.9,1158.7 1452.1,1158.7 C1473.5,1158.8 1491.4,1158.8 1505.2,1164.4 M1476.8,1175.7 C1478.2,1167.2 1490.5,1165.0 1511.2,1165.1 C1532.8,1165.1 1551.0,1165.1 1565.0,1170.9 M1537.6,1182.3 C1539.0,1173.7 1551.0,1171.5 1571.1,1171.5 C1593.0,1171.6 1611.4,1171.6 1625.7,1177.4 M1599.4,1189.1 C1600.7,1180.2 1612.3,1178.0 1631.8,1178.0 C1654.1,1178.1 1672.8,1178.1 1687.2,1184.0 M1662.0,1195.9 C1663.3,1186.9 1674.6,1184.6 1693.4,1184.7 C1716.1,1184.7 1735.0,1184.7 1749.7,1190.7 M1725.6,1202.8 C1726.8,1193.7 1737.7,1191.3 1756.0,1191.4 C1778.9,1191.4 1798.1,1191.4 1813.0,1197.5 M1790.1,1209.9 C1791.3,1200.5 1801.8,1198.1 1819.4,1198.2 C1842.7,1198.2 1862.2,1198.3 1877.3,1204.4 M1855.6,1217.0 C1856.7,1207.5 1866.9,1205.1 1883.8,1205.1 C1907.4,1205.2 1927.2,1205.2 1942.5,1211.4 M1922.1,1224.3 C1923.2,1214.6 1932.9,1212.1 1949.1,1212.1 C1973.1,1212.2 1993.1,1212.2 2008.7,1218.5 M1989.6,1231.7 C1990.6,1221.7 1999.9,1219.2 2015.4,1219.2 C2039.7,1219.3 2060.1,1219.3 2075.9,1225.7 M2058.1,1239.1 C2059.1,1229.0 2067.9,1226.4 2082.7,1226.5 C2107.4,1226.5 2128.1,1226.6 2144.1,1233.1 M1279.8,1140.2 C1281.3,1132.6 1294.4,1130.7 1316.3,1130.7 C1336.5,1130.8 1353.4,1130.8 1366.5,1136.1 M1336.4,1146.3 C1337.9,1138.6 1350.7,1136.6 1372.1,1136.7 C1392.6,1136.7 1409.7,1136.7 1423.0,1142.0 M1393.9,1152.5 C1395.3,1144.6 1407.8,1142.6 1428.7,1142.6 C1449.5,1142.7 1466.8,1142.7 1480.3,1148.1 M1452.1,1158.7 C1453.5,1150.7 1465.7,1148.7 1486.1,1148.7 C1507.1,1148.7 1524.7,1148.7 1538.4,1154.2 M1511.2,1165.1 C1512.5,1156.9 1524.4,1154.9 1544.2,1154.9 C1565.5,1154.9 1583.4,1154.9 1597.2,1160.5 M1571.1,1171.5 C1572.3,1163.2 1583.9,1161.1 1603.2,1161.1 C1624.8,1161.1 1642.9,1161.1 1657.0,1166.8 M1631.8,1178.0 C1633.1,1169.6 1644.3,1167.4 1663.0,1167.4 C1684.9,1167.4 1703.3,1167.4 1717.5,1173.2 M1693.4,1184.7 C1694.6,1176.0 1705.5,1173.8 1723.6,1173.8 C1745.9,1173.9 1764.5,1173.9 1778.9,1179.7 M1756.0,1191.4 C1757.1,1182.6 1767.6,1180.3 1785.1,1180.4 C1807.7,1180.4 1826.6,1180.4 1841.2,1186.3 M1819.4,1198.2 C1820.5,1189.2 1830.6,1186.9 1847.5,1187.0 C1870.4,1187.0 1889.6,1187.0 1904.4,1193.0 M1883.8,1205.1 C1884.8,1195.9 1894.6,1193.6 1910.8,1193.6 C1934.0,1193.7 1953.4,1193.7 1968.5,1199.8 M1949.1,1212.1 C1950.1,1202.8 1959.4,1200.4 1975.0,1200.4 C1998.5,1200.5 2018.3,1200.4 2033.6,1206.6 M2015.4,1219.2 C2016.4,1209.7 2025.3,1207.3 2040.1,1207.3 C2064.0,1207.4 2084.1,1207.3 2099.6,1213.6 M2082.7,1226.5 C2083.6,1216.8 2092.1,1214.3 2106.2,1214.3 C2130.5,1214.3 2150.8,1214.3 2166.6,1220.7 M1316.3,1130.7 C1317.7,1123.5 1330.4,1121.6 1351.4,1121.6 C1371.3,1121.6 1388.0,1121.6 1400.9,1126.8 M1372.1,1136.7 C1373.5,1129.2 1385.9,1127.4 1406.5,1127.4 C1426.6,1127.3 1443.5,1127.3 1456.6,1132.6 M1428.7,1142.6 C1430.0,1135.1 1442.1,1133.2 1462.2,1133.2 C1482.7,1133.2 1499.8,1133.1 1513.1,1138.5 M1486.1,1148.7 C1487.4,1141.0 1499.1,1139.1 1518.7,1139.1 C1539.5,1139.1 1556.8,1139.0 1570.3,1144.4 M1544.2,1154.9 C1545.5,1147.0 1556.9,1145.1 1576.0,1145.0 C1597.0,1145.0 1614.6,1145.0 1628.3,1150.5 M1603.2,1161.1 C1604.4,1153.1 1615.5,1151.1 1634.1,1151.1 C1655.4,1151.1 1673.2,1151.0 1687.0,1156.6 M1663.0,1167.4 C1664.2,1159.3 1675.0,1157.2 1693.0,1157.2 C1714.5,1157.2 1732.6,1157.2 1746.6,1162.8 M1723.6,1173.8 C1724.8,1165.5 1735.2,1163.5 1752.6,1163.5 C1774.5,1163.4 1792.8,1163.4 1807.1,1169.1 M1785.1,1180.4 C1786.2,1171.9 1796.3,1169.8 1813.1,1169.8 C1835.3,1169.7 1853.9,1169.7 1868.3,1175.5 M1847.5,1187.0 C1848.6,1178.3 1858.3,1176.2 1874.5,1176.2 C1897.0,1176.1 1915.9,1176.1 1930.5,1182.0 M1910.8,1193.6 C1911.8,1184.8 1921.2,1182.7 1936.7,1182.6 C1959.6,1182.6 1978.7,1182.6 1993.5,1188.6 M1975.0,1200.4 C1976.0,1191.5 1984.9,1189.2 1999.9,1189.2 C2023.0,1189.2 2042.4,1189.2 2057.4,1195.2 M2040.1,1207.3 C2041.1,1198.2 2049.6,1195.9 2063.9,1195.9 C2087.4,1195.9 2107.0,1195.8 2122.3,1202.0 M2106.2,1214.3 C2107.1,1205.0 2115.3,1202.7 2128.8,1202.7 C2152.7,1202.7 2172.6,1202.6 2188.1,1208.9 M1351.4,1121.6 C1352.8,1114.6 1365.0,1112.9 1385.3,1112.8 C1404.9,1112.8 1421.4,1112.7 1434.1,1117.8 M1406.5,1127.4 C1407.8,1120.2 1419.7,1118.5 1439.6,1118.4 C1459.5,1118.4 1476.1,1118.3 1489.0,1123.5 M1462.2,1133.2 C1463.5,1125.9 1475.2,1124.1 1494.5,1124.1 C1514.7,1124.0 1531.5,1124.0 1544.6,1129.2 M1518.7,1139.1 C1520.0,1131.6 1531.3,1129.8 1550.2,1129.8 C1570.6,1129.7 1587.7,1129.7 1601.0,1135.0 M1576.0,1145.0 C1577.3,1137.5 1588.3,1135.6 1606.7,1135.6 C1627.3,1135.5 1644.7,1135.5 1658.1,1140.9 M1634.1,1151.1 C1635.3,1143.4 1646.0,1141.5 1663.9,1141.5 C1684.8,1141.4 1702.4,1141.4 1716.0,1146.8 M1693.0,1157.2 C1694.1,1149.4 1704.5,1147.5 1721.8,1147.4 C1743.1,1147.4 1760.8,1147.3 1774.7,1152.8 M1752.6,1163.5 C1753.8,1155.5 1763.8,1153.5 1780.6,1153.5 C1802.1,1153.4 1820.1,1153.3 1834.1,1159.0 M1813.1,1169.8 C1814.2,1161.6 1823.9,1159.6 1840.1,1159.6 C1862.0,1159.5 1880.2,1159.5 1894.4,1165.2 M1874.5,1176.2 C1875.5,1167.9 1884.9,1165.8 1900.5,1165.8 C1922.6,1165.7 1941.2,1165.7 1955.5,1171.4 M1936.7,1182.6 C1937.7,1174.2 1946.7,1172.1 1961.7,1172.1 C1984.1,1172.0 2002.9,1172.0 2017.5,1177.8 M1999.9,1189.2 C2000.8,1180.6 2009.4,1178.5 2023.8,1178.4 C2046.5,1178.4 2065.6,1178.3 2080.4,1184.3 M2063.9,1195.9 C2064.8,1187.1 2073.0,1184.9 2086.7,1184.9 C2109.8,1184.9 2129.1,1184.8 2144.1,1190.8 M2128.8,1202.7 C2129.7,1193.7 2137.5,1191.5 2150.5,1191.5 C2174.0,1191.4 2193.6,1191.4 2208.8,1197.5" fill="none" stroke="#000" stroke-width="1.6"/></g>
<path d="M1074.4,944 C1078,938 1083,935.3 1092,935.3 L2024.8,978.5" fill="none" stroke="#000" stroke-width="2.7" stroke-linejoin="round" stroke-linecap="round" />
<path d="M1658.2,1171.7 L1673.5,995 C1674.5,978 1680,966 1692,963.7 M2024.8,978.5 C2035,980.5 2045,983 2050,987 C2054,990 2056,996 2056,1005 L2049.5,1089" fill="none" stroke="#000" stroke-width="2.7" stroke-linejoin="round" stroke-linecap="round" />
<path d="M2024.8,979.8 C2030,981 2034,988 2033.7,998 L2023.8,1098" fill="none" stroke="#000" stroke-width="2.7" stroke-linejoin="round" stroke-linecap="round" />
<path d="M868.5,1265 L863.7,1085 C863,1079 866,1076 870,1075 L1062,1041" fill="none" stroke="#000" stroke-width="2.7" stroke-linejoin="round" stroke-linecap="round" />
<path d="M863.7,1082 C875,1075 887,1077 892,1082 L897,1271.4 L876,1269 C870,1268 868.5,1266 868.5,1262" fill="none" stroke="#000" stroke-width="2.7" stroke-linejoin="round" stroke-linecap="round" />
<path d="M892,1082 C893,1079 896,1077 900,1076.5 L1061,1046.7" fill="none" stroke="#000" stroke-width="2.7" stroke-linejoin="round" stroke-linecap="round" />
<path d="M897,1164 C898,1158 902,1155 910,1153 L1044.5,1117 L1634,1164.2 C1643,1166 1650,1169 1656,1172" fill="none" stroke="#000" stroke-width="2.7" stroke-linejoin="round" stroke-linecap="round" />
<path d="M897,1164 L898,1234" fill="none" stroke="#000" stroke-width="2.7" stroke-linejoin="round" stroke-linecap="round" />
<path d="M898.5,1235 L1313,1278" fill="none" stroke="#000" stroke-width="2.7" stroke-linejoin="round" stroke-linecap="round" />
<path d="M900,1271.4 L1311.5,1319" fill="none" stroke="#000" stroke-width="2.7" stroke-linejoin="round" stroke-linecap="round" />
<path d="M916,1276 L920.7,1328.4 L928.6,1328.4 L929.7,1293 C931,1286 935,1283 940,1282.5 L960,1281" fill="none" stroke="#000" stroke-width="2.7" stroke-linejoin="round" stroke-linecap="round" />
<path d="M1321,1276 L1654.8,1171.1" fill="none" stroke="#000" stroke-width="2.7" stroke-linejoin="round" stroke-linecap="round" />
<path d="M1666.7,1171 L1914.6,1198.6" fill="none" stroke="#000" stroke-width="2.7" stroke-linejoin="round" stroke-linecap="round" />
<path d="M1313.3,1287.3 C1314,1281 1317,1276 1321,1276 L1718.8,1326.8 L1914.4,1243.6" fill="none" stroke="#000" stroke-width="2.7" stroke-linejoin="round" stroke-linecap="round" />
<path d="M1313.3,1287.3 L1313.3,1376 C1313.3,1380 1316,1383 1320,1383 L1721,1426.6 L1718.8,1326.8" fill="none" stroke="#000" stroke-width="2.7" stroke-linejoin="round" stroke-linecap="round" />
<path d="M1320,1385 L1319.5,1419 C1320,1425 1324,1428 1330,1428.7 L1731.3,1476.5" fill="none" stroke="#000" stroke-width="2.7" stroke-linejoin="round" stroke-linecap="round" />
<path d="M1727,1432.9 L1731.3,1474.5 M1739.6,1474.5 L1918.5,1389.2" fill="none" stroke="#000" stroke-width="2.7" stroke-linejoin="round" stroke-linecap="round" />
<path d="M1336,1430.8 L1340.3,1499.4 L1348.6,1499.4 L1352.8,1451.6 C1355,1445 1360,1443 1370,1442 L1398.6,1441.2" fill="none" stroke="#000" stroke-width="2.7" stroke-linejoin="round" stroke-linecap="round" />
<path d="M1648,1472.4 C1680,1480 1697,1484 1700,1491 L1706.4,1553.5 L1723,1553.5 L1727,1495.3 C1729,1488 1735,1480 1741.7,1476.5" fill="none" stroke="#000" stroke-width="2.7" stroke-linejoin="round" stroke-linecap="round" />
<path d="M1913,1144.8 C1913,1140 1914,1138.5 1918,1138 L2069.6,1084.7 L2112,1086 C2120,1087 2124,1090 2126,1097 L2129.7,1309.4 L1980,1390.4 L1922,1385 C1918,1384 1917.7,1380 1917.7,1376 Z" fill="none" stroke="#000" stroke-width="2.7" stroke-linejoin="round" stroke-linecap="round" />
<path d="M1918,1138 C1950,1137 1968,1140 1971.5,1146 L1974.7,1390 M1971.5,1143.2 L2120.3,1089.4" fill="none" stroke="#000" stroke-width="2.7" stroke-linejoin="round" stroke-linecap="round" />
<path d="M2039.7,1354 L2039.7,1373.8 L2050.3,1373.8 L2050.3,1349" fill="none" stroke="#000" stroke-width="2.2" stroke-linejoin="round" stroke-linecap="round" />
<line x1="1073.6" y1="915.0" x2="2116.1" y2="963.8" stroke="#000" stroke-width="4.5"/>
<polygon points="1060.0,914.4 1076.5,924.7 1077.4,905.7"/>
<polygon points="2129.7,964.4 2112.3,973.1 2113.2,954.1"/>
<line x1="886.6" y1="1074.3" x2="1061.5" y2="1042.0" stroke="#000" stroke-width="4.5"/>
<polygon points="873.2,1076.8 891.6,1083.1 888.2,1064.4"/>
<line x1="1072.7" y1="957.4" x2="1058.1" y2="1107.5" stroke="#000" stroke-width="4.5"/>
<polygon points="1074.0,943.9 1062.9,959.9 1081.8,961.7"/>
<polygon points="1056.8,1121.0 1049.0,1103.2 1067.9,1105.0"/>
<line x1="916.9" y1="1163.3" x2="1513.1" y2="1210.2" stroke="#000" stroke-width="4.5"/>
<polygon points="903.3,1162.2 919.5,1173.0 921.0,1154.1"/>
<polygon points="1526.7,1211.3 1509.0,1219.4 1510.5,1200.5"/>
<line x1="982.4" y1="1182.1" x2="982.4" y2="1227.7" stroke="#000" stroke-width="4.5"/>
<polygon points="982.4,1168.5 972.9,1185.5 991.9,1185.5"/>
<polygon points="982.4,1241.3 972.9,1224.3 991.9,1224.3"/>
<line x1="982.4" y1="1254.2" x2="982.4" y2="1269.8" stroke="#000" stroke-width="4.5"/>
<polygon points="982.4,1243.0 973.9,1257.0 990.9,1257.0"/>
<polygon points="982.4,1281.0 973.9,1267.0 990.9,1267.0"/>
<line x1="834.9" y1="1093.6" x2="834.9" y2="1314.4" stroke="#000" stroke-width="4.5"/>
<polygon points="834.9,1080.0 825.4,1097.0 844.4,1097.0"/>
<polygon points="834.9,1328.0 825.4,1311.0 844.4,1311.0"/>
<line x1="2084.0" y1="1073.6" x2="2117.0" y2="1073.6" stroke="#000" stroke-width="4.5"/>
<polygon points="2072.8,1073.6 2086.8,1082.1 2086.8,1065.1"/>
<polygon points="2128.2,1073.6 2114.2,1082.1 2114.2,1065.1"/>
<line x1="2150.3" y1="992.3" x2="2150.3" y2="1358.9" stroke="#000" stroke-width="4.5"/>
<polygon points="2150.3,978.7 2140.8,995.7 2159.8,995.7"/>
<polygon points="2150.3,1372.5 2140.8,1355.5 2159.8,1355.5"/>
<line x1="1929.1" y1="1158.4" x2="1934.7" y2="1373.4" stroke="#000" stroke-width="4.5"/>
<polygon points="1928.8,1144.8 1919.7,1162.0 1938.7,1161.6"/>
<polygon points="1935.0,1387.0 1925.1,1370.2 1944.1,1369.8"/>
<line x1="1337.5" y1="1279.3" x2="1704.9" y2="1323.6" stroke="#000" stroke-width="4.5"/>
<polygon points="1324.0,1277.7 1339.7,1289.2 1342.0,1270.3"/>
<polygon points="1718.4,1325.2 1700.4,1332.6 1702.7,1313.7"/>
<line x1="1730.9" y1="1319.9" x2="1900.5" y2="1248.3" stroke="#000" stroke-width="4.5"/>
<polygon points="1718.4,1325.2 1737.8,1327.3 1730.4,1309.8"/>
<polygon points="1913.0,1243.0 1901.0,1258.4 1893.6,1240.9"/>
<line x1="1542.0" y1="1471.4" x2="1542.0" y2="1517.0" stroke="#000" stroke-width="4.5"/>
<polygon points="1542.0,1457.8 1532.5,1474.8 1551.5,1474.8"/>
<polygon points="1542.0,1530.6 1532.5,1513.6 1551.5,1513.6"/>
<line x1="1801.6" y1="1561.6" x2="2137.4" y2="1383.1" stroke="#000" stroke-width="4.5"/>
<polygon points="1789.6,1568.0 1809.1,1568.4 1800.2,1551.6"/>
<polygon points="2149.4,1376.7 2138.8,1393.1 2129.9,1376.3"/>
<text transform="translate(1580.6,910.5) rotate(3)" x="0" y="14.5" font-size="40.5" text-anchor="middle" textLength="142.0" lengthAdjust="spacingAndGlyphs">267 cm</text>
<text transform="translate(973.6,1032.3) rotate(-10.5)" x="0" y="14.5" font-size="40.5" text-anchor="middle" textLength="118.0" lengthAdjust="spacingAndGlyphs">86 cm</text>
<text transform="translate(1091.5,1037.0) rotate(-84)" x="0" y="14.5" font-size="40.5" text-anchor="middle" textLength="117.0" lengthAdjust="spacingAndGlyphs">45 cm</text>
<text transform="translate(1049.7,1206.5) rotate(0)" x="0" y="14.5" font-size="40.5" text-anchor="middle" textLength="118.0" lengthAdjust="spacingAndGlyphs">20 cm</text>
<text transform="translate(1039.3,1265.0) rotate(0)" x="0" y="14.5" font-size="40.5" text-anchor="middle" textLength="91.7" lengthAdjust="spacingAndGlyphs">8 cm</text>
<text transform="translate(1240.3,1213.6) rotate(5)" x="0" y="14.5" font-size="40.5" text-anchor="middle" textLength="140.0" lengthAdjust="spacingAndGlyphs">160 cm</text>
<text transform="translate(2089.4,1046.0) rotate(0)" x="0" y="14.5" font-size="40.5" text-anchor="middle" textLength="112.0" lengthAdjust="spacingAndGlyphs">13 cm</text>
<text transform="translate(2174.0,1203.3) rotate(-90)" x="0" y="14.5" font-size="40.5" text-anchor="middle" textLength="117.0" lengthAdjust="spacingAndGlyphs">83 cm</text>
<text transform="translate(1954.1,1263.4) rotate(-88)" x="0" y="14.5" font-size="40.5" text-anchor="middle" textLength="117.0" lengthAdjust="spacingAndGlyphs">47 cm</text>
<text transform="translate(1837.0,1306.0) rotate(-25)" x="0" y="14.5" font-size="40.5" text-anchor="middle" textLength="118.0" lengthAdjust="spacingAndGlyphs">82 cm</text>
<text transform="translate(1537.8,1329.8) rotate(7)" x="0" y="14.5" font-size="40.5" text-anchor="middle" textLength="115.0" lengthAdjust="spacingAndGlyphs">81 cm</text>
<text transform="translate(1610.7,1496.3) rotate(0)" x="0" y="14.5" font-size="40.5" text-anchor="middle" textLength="111.0" lengthAdjust="spacingAndGlyphs">13 cm</text>
<text transform="translate(1985.0,1496.3) rotate(-28)" x="0" y="14.5" font-size="40.5" text-anchor="middle" textLength="141.0" lengthAdjust="spacingAndGlyphs">168 cm</text>
<text transform="translate(807.0,1199.0) rotate(-90)" x="0" y="14.5" font-size="40.5" text-anchor="middle" textLength="118.0" lengthAdjust="spacingAndGlyphs">61 cm</text>
<clipPath id="cott"><path d="M708,1418.7 L956,1349.3 L1276,1389.3 L1066.8,1464 Z"/></clipPath>
<g clip-path="url(#cott)"><path d="M492.1,1391.4 C494.7,1374.3 517.8,1369.3 556.3,1370.0 C581.5,1370.6 602.6,1371.0 618.9,1377.9 M564.0,1400.5 C566.4,1383.1 588.7,1378.0 625.8,1378.8 C651.1,1379.3 672.2,1379.7 688.5,1386.7 M635.9,1409.6 C638.3,1392.0 659.7,1386.8 695.5,1387.6 C720.8,1388.1 742.0,1388.5 758.3,1395.5 M708.0,1418.7 C710.3,1400.8 730.9,1395.7 765.3,1396.4 C790.6,1396.9 811.9,1397.3 828.2,1404.3 M780.2,1427.8 C782.4,1409.7 802.2,1404.5 835.2,1405.2 C860.6,1405.7 881.9,1406.1 898.2,1413.1 M852.6,1437.0 C854.7,1418.6 873.6,1413.3 905.2,1414.0 C930.7,1414.5 952.0,1414.9 968.3,1421.9 M925.0,1446.1 C927.1,1427.5 945.2,1422.2 975.4,1422.8 C1000.9,1423.3 1022.2,1423.7 1038.6,1430.8 M997.7,1455.3 C999.6,1436.4 1016.9,1431.1 1045.6,1431.7 C1071.2,1432.2 1092.6,1432.6 1109.0,1439.6 M1070.4,1464.5 C1072.2,1445.3 1088.7,1440.0 1116.0,1440.5 C1141.6,1441.0 1163.0,1441.5 1179.5,1448.5 M1143.3,1473.7 C1145.0,1454.2 1160.6,1448.9 1186.6,1449.4 C1212.2,1449.9 1233.7,1450.3 1250.2,1457.4 M556.3,1370.0 C558.2,1358.5 576.0,1355.0 605.6,1355.6 C630.3,1356.1 650.9,1356.5 666.8,1363.3 M625.8,1378.8 C627.7,1367.1 644.9,1363.6 673.6,1364.2 C698.3,1364.7 719.0,1365.1 734.8,1371.9 M695.5,1387.6 C697.3,1375.7 714.0,1372.2 741.7,1372.7 C766.4,1373.2 787.1,1373.6 803.0,1380.4 M765.3,1396.4 C767.1,1384.3 783.1,1380.8 809.8,1381.3 C834.6,1381.8 855.4,1382.2 871.3,1389.0 M835.2,1405.2 C836.9,1392.9 852.4,1389.4 878.1,1389.9 C903.0,1390.4 923.7,1390.8 939.7,1397.6 M905.2,1414.0 C906.9,1401.6 921.8,1398.0 946.6,1398.5 C971.4,1399.0 992.2,1399.4 1008.2,1406.2 M975.4,1422.8 C977.0,1410.2 991.3,1406.6 1015.1,1407.1 C1040.0,1407.6 1060.8,1408.0 1076.9,1414.8 M1045.6,1431.7 C1047.2,1418.9 1060.9,1415.2 1083.7,1415.7 C1108.7,1416.2 1129.6,1416.6 1145.6,1423.5 M1116.0,1440.5 C1117.5,1427.6 1130.6,1423.9 1152.5,1424.3 C1177.5,1424.8 1198.4,1425.3 1214.5,1432.1 M1186.6,1449.4 C1188.0,1436.3 1200.5,1432.6 1221.4,1433.0 C1246.4,1433.5 1267.4,1433.9 1283.5,1440.8 M605.6,1355.6 C607.5,1344.6 624.5,1341.3 652.7,1341.9 C676.8,1342.4 697.0,1342.8 712.5,1349.4 M673.6,1364.2 C675.4,1353.0 691.8,1349.7 719.2,1350.2 C743.3,1350.7 763.5,1351.1 779.1,1357.7 M741.7,1372.7 C743.4,1361.4 759.3,1358.0 785.7,1358.6 C809.9,1359.0 830.1,1359.4 845.7,1366.1 M809.8,1381.3 C811.5,1369.8 826.9,1366.4 852.4,1366.9 C876.6,1367.4 896.9,1367.8 912.4,1374.5 M878.1,1389.9 C879.8,1378.2 894.5,1374.8 919.1,1375.3 C943.4,1375.8 963.7,1376.2 979.3,1382.8 M946.6,1398.5 C948.1,1386.6 962.3,1383.2 986.0,1383.7 C1010.3,1384.2 1030.6,1384.5 1046.3,1391.2 M1015.1,1407.1 C1016.6,1395.1 1030.3,1391.6 1053.0,1392.1 C1077.3,1392.6 1097.7,1393.0 1113.4,1399.6 M1083.7,1415.7 C1085.2,1403.5 1098.3,1400.1 1120.1,1400.5 C1144.5,1401.0 1164.9,1401.4 1180.6,1408.1 M1152.5,1424.3 C1153.9,1412.0 1166.4,1408.5 1187.3,1408.9 C1211.7,1409.4 1232.2,1409.8 1247.9,1416.5 M1221.4,1433.0 C1222.7,1420.5 1234.7,1417.0 1254.6,1417.4 C1279.1,1417.8 1299.6,1418.2 1315.3,1425.0 M652.7,1341.9 C654.5,1331.4 670.7,1328.2 697.7,1328.8 C721.3,1329.2 741.0,1329.6 756.2,1336.1 M719.2,1350.2 C720.9,1339.6 736.6,1336.4 762.7,1336.9 C786.3,1337.4 806.1,1337.7 821.3,1344.2 M785.7,1358.6 C787.4,1347.7 802.5,1344.5 827.8,1345.0 C851.4,1345.5 871.2,1345.9 886.5,1352.4 M852.4,1366.9 C854.0,1355.9 868.6,1352.7 893.0,1353.2 C916.7,1353.7 936.5,1354.0 951.7,1360.6 M919.1,1375.3 C920.7,1364.2 934.8,1360.9 958.3,1361.4 C982.0,1361.8 1001.9,1362.2 1017.1,1368.7 M986.0,1383.7 C987.5,1372.4 1001.1,1369.1 1023.7,1369.6 C1047.4,1370.0 1067.3,1370.4 1082.6,1376.9 M1053.0,1392.1 C1054.4,1380.6 1067.5,1377.3 1089.2,1377.8 C1113.0,1378.2 1132.9,1378.6 1148.2,1385.1 M1120.1,1400.5 C1121.5,1388.9 1134.0,1385.6 1154.8,1386.0 C1178.6,1386.4 1198.6,1386.8 1213.9,1393.4 M1187.3,1408.9 C1188.6,1397.1 1200.6,1393.8 1220.5,1394.2 C1244.4,1394.7 1264.4,1395.0 1279.8,1401.6 M1254.6,1417.4 C1255.9,1405.4 1267.3,1402.0 1286.3,1402.4 C1310.3,1402.9 1330.3,1403.3 1345.7,1409.9 M697.7,1328.8 C699.4,1318.7 714.9,1315.7 740.7,1316.2 C763.8,1316.7 783.1,1317.0 798.0,1323.4 M762.7,1336.9 C764.4,1326.7 779.4,1323.7 804.3,1324.1 C827.4,1324.6 846.8,1325.0 861.6,1331.3 M827.8,1345.0 C829.4,1334.7 843.9,1331.6 868.0,1332.1 C891.1,1332.6 910.5,1332.9 925.4,1339.3 M893.0,1353.2 C894.5,1342.7 908.5,1339.6 931.8,1340.1 C955.0,1340.5 974.4,1340.9 989.3,1347.3 M958.3,1361.4 C959.8,1350.7 973.2,1347.6 995.7,1348.1 C1018.9,1348.5 1038.3,1348.9 1053.3,1355.2 M1023.7,1369.6 C1025.1,1358.8 1038.1,1355.6 1059.7,1356.0 C1082.9,1356.5 1102.4,1356.9 1117.4,1363.3 M1089.2,1377.8 C1090.6,1366.8 1103.0,1363.7 1123.8,1364.1 C1147.1,1364.5 1166.6,1364.9 1181.5,1371.3 M1154.8,1386.0 C1156.1,1374.9 1168.1,1371.7 1188.0,1372.1 C1211.3,1372.5 1230.8,1372.9 1245.8,1379.3 M1220.5,1394.2 C1221.8,1382.9 1233.2,1379.7 1252.3,1380.1 C1275.6,1380.6 1295.2,1380.9 1310.2,1387.3 M1286.3,1402.4 C1287.6,1391.0 1298.5,1387.8 1316.7,1388.2 C1340.1,1388.6 1359.7,1389.0 1374.7,1395.4" fill="none" stroke="#000" stroke-width="1.6"/></g>
<path d="M704.5,1422.2 C705,1419 707,1417 712,1415 L945,1350 C952,1348 958,1348 965,1348.4 L1265.5,1383.8 C1275,1386 1280,1392 1281,1400 L1281,1502 C1281,1512 1278,1518 1271.7,1522 L1065.7,1605 L718,1558 C710,1556 706,1553 706,1546 Z" fill="none" stroke="#000" stroke-width="2.7" stroke-linejoin="round" stroke-linecap="round" />
<path d="M706,1419.2 L1064.2,1465.3 L1281,1391.5 M1064.2,1465.3 L1065.7,1605" fill="none" stroke="#000" stroke-width="2.7" stroke-linejoin="round" stroke-linecap="round" />
<path d="M718.4,1557.5 L720,1623.6 L729,1623.6 L732.2,1579 C734,1572 738,1570 743,1569.8 L772,1564" fill="none" stroke="#000" stroke-width="2.7" stroke-linejoin="round" stroke-linecap="round" />
<path d="M1002.7,1599 C1030,1605 1048,1610 1050.4,1616 L1053.4,1674.3 L1072,1674.3 L1073.4,1617.4 C1080,1605 1090,1598 1104.2,1592.8" fill="none" stroke="#000" stroke-width="2.7" stroke-linejoin="round" stroke-linecap="round" />
<path d="M1239.4,1533 L1259.4,1539 L1261,1583.6 L1268.6,1583.6 L1270,1522" fill="none" stroke="#000" stroke-width="2.7" stroke-linejoin="round" stroke-linecap="round" />
<line x1="683.0" y1="1434.3" x2="683.0" y2="1606.9" stroke="#000" stroke-width="4.5"/>
<polygon points="683.0,1420.7 673.5,1437.7 692.5,1437.7"/>
<polygon points="683.0,1620.5 673.5,1603.5 692.5,1603.5"/>
<line x1="721.1" y1="1421.0" x2="1050.7" y2="1465.0" stroke="#000" stroke-width="4.5"/>
<polygon points="707.6,1419.2 723.2,1430.9 725.7,1412.0"/>
<polygon points="1064.2,1466.8 1046.1,1474.0 1048.6,1455.1"/>
<line x1="1081.7" y1="1457.8" x2="1263.4" y2="1395.9" stroke="#000" stroke-width="4.5"/>
<polygon points="1068.8,1462.2 1088.0,1465.7 1081.8,1447.7"/>
<polygon points="1276.3,1391.5 1263.3,1406.0 1257.1,1388.0"/>
<line x1="1065.7" y1="1480.4" x2="1065.7" y2="1590.0" stroke="#000" stroke-width="4.5"/>
<polygon points="1065.7,1466.8 1056.2,1483.8 1075.2,1483.8"/>
<polygon points="1065.7,1603.6 1056.2,1586.6 1075.2,1586.6"/>
<text transform="translate(653.8,1518.3) rotate(-90)" x="0" y="14.5" font-size="40.5" text-anchor="middle" textLength="118.4" lengthAdjust="spacingAndGlyphs">41 cm</text>
<text transform="translate(884.4,1467.5) rotate(7)" x="0" y="14.5" font-size="40.5" text-anchor="middle" textLength="116.0" lengthAdjust="spacingAndGlyphs">80 cm</text>
<text transform="translate(1182.5,1456.0) rotate(-20)" x="0" y="14.5" font-size="40.5" text-anchor="middle" textLength="116.0" lengthAdjust="spacingAndGlyphs">80 cm</text>
<text transform="translate(1093.4,1528.2) rotate(-90)" x="0" y="14.5" font-size="40.5" text-anchor="middle" textLength="116.6" lengthAdjust="spacingAndGlyphs">28 cm</text>
<rect x="140.8" y="1622.2" width="166.8" height="209.5" rx="23" fill="none" stroke="#000" stroke-width="2.2"/>
<rect x="391.2" y="1622.2" width="165.1" height="209.5" rx="23" fill="#fff" stroke="#000" stroke-width="2.2"/>
<circle cx="173.6" cy="1655.4" r="15" fill="#fff" stroke="#000" stroke-width="2.2"/>
<path d="M167.6,1649.4 L179.6,1661.4 M179.6,1649.4 L167.6,1661.4" stroke="#000" stroke-width="6.5" stroke-linecap="round"/>
<path d="M167.6,1649.4 L179.6,1661.4 M179.6,1649.4 L167.6,1661.4" stroke="#fff" stroke-width="2.2" stroke-linecap="round"/>
<circle cx="274.8" cy="1655.4" r="15" fill="#fff" stroke="#000" stroke-width="2.2"/>
<path d="M268.8,1649.4 L280.8,1661.4 M280.8,1649.4 L268.8,1661.4" stroke="#000" stroke-width="6.5" stroke-linecap="round"/>
<path d="M268.8,1649.4 L280.8,1661.4 M280.8,1649.4 L268.8,1661.4" stroke="#fff" stroke-width="2.2" stroke-linecap="round"/>
<circle cx="202.5" cy="1727" r="15" fill="#fff" stroke="#000" stroke-width="2.2"/>
<path d="M196.5,1721 L208.5,1733 M208.5,1721 L196.5,1733" stroke="#000" stroke-width="6.5" stroke-linecap="round"/>
<path d="M196.5,1721 L208.5,1733 M208.5,1721 L196.5,1733" stroke="#fff" stroke-width="2.2" stroke-linecap="round"/>
<circle cx="173.6" cy="1798.5" r="15" fill="#fff" stroke="#000" stroke-width="2.2"/>
<path d="M167.6,1792.5 L179.6,1804.5 M179.6,1792.5 L167.6,1804.5" stroke="#000" stroke-width="6.5" stroke-linecap="round"/>
<path d="M167.6,1792.5 L179.6,1804.5 M179.6,1792.5 L167.6,1804.5" stroke="#fff" stroke-width="2.2" stroke-linecap="round"/>
<circle cx="274.8" cy="1798.5" r="15" fill="#fff" stroke="#000" stroke-width="2.2"/>
<path d="M268.8,1792.5 L280.8,1804.5 M280.8,1792.5 L268.8,1804.5" stroke="#000" stroke-width="6.5" stroke-linecap="round"/>
<path d="M268.8,1792.5 L280.8,1804.5 M280.8,1792.5 L268.8,1804.5" stroke="#fff" stroke-width="2.2" stroke-linecap="round"/>
<circle cx="424" cy="1647.5" r="15" fill="#fff" stroke="#000" stroke-width="2.2"/>
<path d="M418,1641.5 L430,1653.5 M430,1641.5 L418,1653.5" stroke="#000" stroke-width="6.5" stroke-linecap="round"/>
<path d="M418,1641.5 L430,1653.5 M430,1641.5 L418,1653.5" stroke="#fff" stroke-width="2.2" stroke-linecap="round"/>
<circle cx="524.6" cy="1654" r="15" fill="#fff" stroke="#000" stroke-width="2.2"/>
<path d="M518.6,1648 L530.6,1660 M530.6,1648 L518.6,1660" stroke="#000" stroke-width="6.5" stroke-linecap="round"/>
<path d="M518.6,1648 L530.6,1660 M530.6,1648 L518.6,1660" stroke="#fff" stroke-width="2.2" stroke-linecap="round"/>
<circle cx="424" cy="1805.7" r="15" fill="#fff" stroke="#000" stroke-width="2.2"/>
<path d="M418,1799.7 L430,1811.7 M430,1799.7 L418,1811.7" stroke="#000" stroke-width="6.5" stroke-linecap="round"/>
<path d="M418,1799.7 L430,1811.7 M430,1799.7 L418,1811.7" stroke="#fff" stroke-width="2.2" stroke-linecap="round"/>
<circle cx="524.6" cy="1799" r="15" fill="#fff" stroke="#000" stroke-width="2.2"/>
<path d="M518.6,1793 L530.6,1805 M530.6,1793 L518.6,1805" stroke="#000" stroke-width="6.5" stroke-linecap="round"/>
<path d="M518.6,1793 L530.6,1805 M530.6,1793 L518.6,1805" stroke="#fff" stroke-width="2.2" stroke-linecap="round"/>
<path d="M307.6,1662 L586.8,1640.7 C598,1640 605,1648 603.7,1657 C603,1661 600,1664 597,1666 L570,1685.9 L560.8,1691.8 L547.7,1692.2 L546.3,1683.2 L526.9,1694 L525.5,1685 L506.1,1695.8 L504.7,1686.8 L485.3,1697.2 L483.9,1688.1 L464.9,1699 L463.6,1690 L444.1,1700.3 L442.8,1691.3 L423.3,1701.7 L422,1693.1 L402.5,1704 L401.2,1694.9 L381.8,1704.9 L380.4,1696.3 L337,1699.5 C322,1701 314.4,1714 314.4,1726.6 C314.4,1740 322,1753 337,1754.8 L380.4,1757.3 L381.8,1747.4 L401.2,1758.7 L402.5,1749.2 L422,1760 L423.3,1751 L442.8,1761.8 L444.1,1752.3 L463.6,1763.6 L464.9,1753.7 L483.9,1765 L485.3,1755.5 L504.7,1766.8 L506.1,1756.9 L525.5,1768.6 L526.9,1758.7 L546.3,1770.4 L547.7,1760.5 L560.8,1761 L570,1767.5 L597,1786 C601,1789 604,1792 603.7,1797 C603,1806 597,1813 586.8,1812.5 L307.6,1791 L230.8,1737.9 L230.8,1715.3 Z" fill="#fff" stroke="#000" stroke-width="2.2" stroke-linejoin="round" stroke-linecap="round" />
<circle cx="497" cy="1727" r="15" fill="#fff" stroke="#000" stroke-width="2.2"/>
<path d="M491,1721 L503,1733 M503,1721 L491,1733" stroke="#000" stroke-width="6.5" stroke-linecap="round"/>
<path d="M491,1721 L503,1733 M503,1721 L491,1733" stroke="#fff" stroke-width="2.2" stroke-linecap="round"/>
<circle cx="270.3" cy="1726.6" r="30.5" fill="#fff" stroke="#000" stroke-width="2"/>
<circle cx="270.3" cy="1726.6" r="27.5" fill="none" stroke="#000" stroke-width="2"/>
<path d="M557.8,1692.7 L557.8,1760.9" fill="none" stroke="#000" stroke-width="2.2" stroke-linejoin="round" stroke-linecap="round"/>
<path d="M391.2,1699.4 L391.2,1752.3" fill="none" stroke="#000" stroke-width="2.2" stroke-linejoin="round" stroke-linecap="round"/>
<path d="M391.7,1726.1 L439.5,1699.5 Q441.4,1698.3 441.4,1701 L441.4,1752.5 Q441.4,1755.5 439,1754.2 Z" fill="none" stroke="#000" stroke-width="2.2" stroke-linejoin="round" stroke-linecap="round" />
<text transform="translate(2457.8,1880.0) rotate(0)" x="0" y="16.0" font-size="44.7" text-anchor="middle" textLength="170.5" lengthAdjust="spacingAndGlyphs">+/- 2 cm</text>
</svg></body></html>
